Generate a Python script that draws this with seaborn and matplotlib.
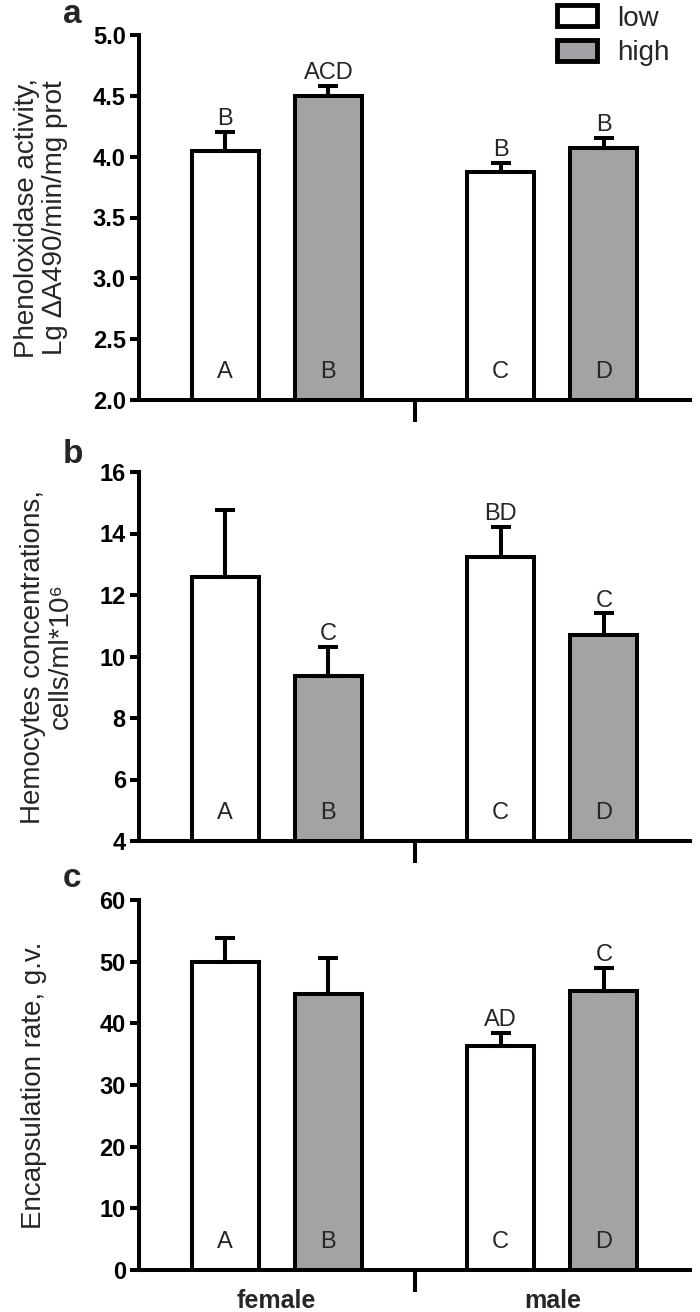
import matplotlib
matplotlib.use('Agg')
import matplotlib.pyplot as plt
import numpy as np
import pandas as pd
import seaborn as sns
from matplotlib.patches import Patch

sexes = ['female', 'male']
levels = ['low', 'high']
group_sex = ['female', 'female', 'male', 'male']
group_level = ['low', 'high', 'low', 'high']
inside_labels = ['A', 'B', 'C', 'D']

# phenoloxidase activity
po_mean = [4.05, 4.50, 3.87, 4.07]
po_se = [0.15, 0.08, 0.08, 0.08]
po_top = ['B', 'ACD', 'B', 'B']

# hemocytes concentration
hem_mean = [12.6, 9.35, 13.25, 10.7]
hem_se = [2.15, 0.95, 0.95, 0.7]
hem_top = ['', 'C', 'BD', 'C']

# encapsulation rate
enc_mean = [50.0, 44.7, 36.3, 45.3]
enc_se = [3.9, 5.9, 2.2, 3.7]
enc_top = ['', '', 'AD', 'C']

colors = {'low': 'white', 'high': '#A2A2A6'}

sns.set_style('ticks')
plt.rcParams['font.family'] = ['Liberation Sans', 'DejaVu Sans']

fig = plt.figure(figsize=(7, 13.12), dpi=100)
left, right = 139 / 700, 690 / 700
H = 1312
panels = [
    (35, 400, po_mean, po_se, po_top, (2, 5), np.arange(2, 5.01, 0.5), '%.1f',
     'Phenoloxidase activity,\nLg \u2206A490/min/mg prot', -0.129, 'a'),
    (472, 841, hem_mean, hem_se, hem_top, (4, 16), np.arange(4, 17, 2), '%d',
     'Hemocytes concentrations,\ncells/ml*10\u2076', -0.118, 'b'),
    (900, 1270, enc_mean, enc_se, enc_top, (0, 60), np.arange(0, 61, 10), '%d',
     'Encapsulation rate, g.v.', -0.167, 'c'),
]

lw = 2.9
for k, (top, bot, mean, se, toplab, ylim, yticks, fmt, ylabel, lab_x, letter) in enumerate(panels):
    ax = fig.add_axes([left, 1 - bot / H, right - left, (bot - top) / H])
    df = pd.DataFrame({'sex': group_sex, 'level': group_level, 'value': mean})
    sns.barplot(data=df, x='sex', y='value', hue='level', order=sexes, hue_order=levels,
                palette=colors, edgecolor='black', linewidth=lw, width=0.75, gap=0.35,
                errorbar=None, legend=False, ax=ax)

    bar_conts = list(ax.containers)
    for j, cont in enumerate(bar_conts):
        for i, bar in enumerate(cont.patches):
            idx = i * 2 + j
            x = bar.get_x() + bar.get_width() / 2
            y = mean[idx]
            ax.errorbar([x], [y], yerr=[[0], [se[idx]]], fmt='none', ecolor='black',
                        elinewidth=lw, capsize=7.5, capthick=lw, zorder=1)
            if toplab[idx]:
                ax.annotate(toplab[idx], (x, y + se[idx]), xytext=(0, 5),
                            textcoords='offset points', ha='center', va='baseline',
                            fontsize=17)
            ax.annotate(inside_labels[idx], (x, ylim[0]), xytext=(0, 16),
                        textcoords='offset points', ha='center', va='baseline',
                        fontsize=17)

    ax.set_xlim(-0.5, 1.5)
    ax.set_ylim(*ylim)
    ax.set_yticks(yticks)
    ax.set_yticklabels([fmt % v for v in yticks], fontweight='bold', fontsize=17)
    ax.set_xticks([0, 1])
    ax.set_xticks([0.5], minor=True)
    if k == 2:
        ax.set_xticklabels(sexes, fontweight='bold', fontsize=18)
    else:
        ax.set_xticklabels(['', ''])
    ax.tick_params(axis='x', which='major', length=0, pad=14)
    ax.tick_params(axis='x', which='minor', length=16, width=lw, color='black')
    ax.tick_params(axis='y', length=6.5, width=lw, pad=3, color='black', labelcolor='black')
    ax.set_xlabel('')
    ax.set_ylabel(ylabel, fontsize=20, linespacing=1.1)
    ax.yaxis.set_label_coords(lab_x, 0.5)
    sns.despine(ax=ax)
    for s in ['left', 'bottom']:
        ax.spines[s].set_linewidth(lw)
        ax.spines[s].set_color('black')
    fig.text(63 / 700, 1 - [23, 463, 887][k] / H, letter, fontsize=24, fontweight='bold',
             ha='left', va='baseline')

handles = [Patch(facecolor=colors[l], edgecolor='black', linewidth=lw + 0.6, label=l) for l in levels]
fig.legend(handles=handles, loc='upper left', bbox_to_anchor=(0.795, 0.996),
           frameon=False, fontsize=20, handlelength=1.47, handleheight=0.8,
           handletextpad=0.7, labelspacing=0.3, borderpad=0, borderaxespad=0)

fig.savefig('out.png', dpi=100)
